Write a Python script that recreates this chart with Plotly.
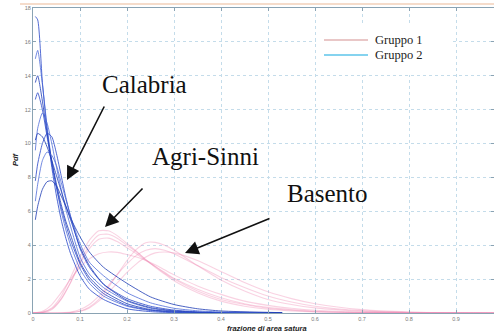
import plotly.graph_objects as go

# ---------------- data ----------------
x_blue = [0.005, 0.01, 0.02, 0.03, 0.04, 0.05, 0.06, 0.07, 0.08, 0.1,
          0.12, 0.15, 0.2, 0.25, 0.3, 0.35, 0.4, 0.53]
calabria_1 = [17.5, 17.3, 13.6, 10.8, 8.6, 6.9, 5.5, 4.4, 3.5, 2.2, 1.4, 0.8, 0.25, 0.08, 0.02, 0.01, 0.0, 0.0]
calabria_2 = [15.0, 15.5, 13.5, 11.0, 8.9, 7.4, 6.0, 4.9, 4.0, 2.6, 1.75, 1.0, 0.4, 0.14, 0.05, 0.02, 0.01, 0.0]
calabria_3 = [13.6, 14.0, 12.5, 10.6, 9.0, 7.6, 6.4, 5.4, 4.6, 3.0, 2.1, 1.3, 0.55, 0.2, 0.08, 0.03, 0.01, 0.0]
calabria_4 = [12.6, 13.0, 12.0, 10.4, 8.8, 7.4, 6.2, 5.2, 4.3, 2.9, 1.95, 1.15, 0.45, 0.17, 0.06, 0.02, 0.01, 0.0]
calabria_5 = [9.6, 10.9, 11.8, 11.2, 10.0, 8.6, 7.3, 6.1, 5.1, 3.3, 2.3, 1.5, 0.7, 0.28, 0.1, 0.04, 0.02, 0.0]
calabria_6 = [10.2, 10.6, 10.4, 9.8, 9.0, 8.1, 7.2, 6.3, 5.5, 3.9, 2.8, 1.7, 0.75, 0.32, 0.13, 0.05, 0.02, 0.0]
calabria_7 = [7.8, 8.8, 10.0, 10.6, 10.4, 9.4, 8.1, 6.8, 5.7, 3.8, 2.7, 1.7, 0.85, 0.4, 0.17, 0.07, 0.03, 0.0]
calabria_8 = [6.6, 7.6, 9.0, 9.5, 9.3, 8.7, 7.7, 6.7, 5.7, 4.1, 3.0, 2.2, 1.2, 0.6, 0.28, 0.13, 0.06, 0.01]
calabria_9 = [5.5, 6.3, 7.3, 7.75, 7.8, 7.5, 6.9, 6.3, 5.6, 4.5, 3.6, 2.7, 1.75, 0.95, 0.5, 0.25, 0.12, 0.02]

x_pink = [0.0, 0.02, 0.04, 0.06, 0.08, 0.1, 0.12, 0.14, 0.16, 0.18, 0.2, 0.22, 0.24,
          0.26, 0.28, 0.3, 0.35, 0.4, 0.45, 0.5, 0.55, 0.6, 0.7, 0.8, 0.9, 1.0]
agri_1 = [0, 0.05, 0.3, 1.0, 2.1, 3.3, 4.3, 4.85, 4.85, 4.55, 4.1, 3.65, 3.15,
          2.7, 2.3, 1.9, 1.2, 0.7, 0.4, 0.22, 0.12, 0.06, 0.015, 0, 0, 0]
agri_2 = [0, 0.02, 0.2, 0.8, 1.8, 3.0, 4.0, 4.6, 4.65, 4.4, 4.0, 3.6, 3.15,
          2.75, 2.35, 2.0, 1.3, 0.8, 0.5, 0.28, 0.16, 0.08, 0.02, 0, 0, 0]
agri_3 = [0, 0.03, 0.25, 0.85, 1.8, 2.9, 3.8, 4.35, 4.42, 4.2, 3.85, 3.5, 3.1,
          2.75, 2.4, 2.05, 1.4, 0.9, 0.55, 0.33, 0.2, 0.1, 0.03, 0.01, 0, 0]
agri_4 = [0, 0.1, 0.5, 1.2, 2.0, 2.7, 3.2, 3.5, 3.6, 3.58, 3.45, 3.3, 3.1,
          2.85, 2.55, 2.25, 1.6, 1.1, 0.7, 0.45, 0.28, 0.16, 0.05, 0.01, 0, 0]
basento_1 = [0, 0, 0, 0, 0.02, 0.1, 0.35, 0.8, 1.5, 2.3, 3.1, 3.75, 4.15,
             4.17, 4.0, 3.7, 2.8, 1.95, 1.3, 0.8, 0.5, 0.3, 0.1, 0.03, 0.01, 0]
basento_2 = [0, 0, 0, 0.01, 0.05, 0.2, 0.5, 1.0, 1.6, 2.3, 2.9, 3.4, 3.7,
             3.8, 3.7, 3.5, 2.8, 2.1, 1.5, 1.0, 0.65, 0.4, 0.14, 0.04, 0.01, 0]
basento_3 = [0, 0, 0, 0, 0.02, 0.1, 0.3, 0.7, 1.2, 1.8, 2.4, 2.9, 3.3,
             3.55, 3.6, 3.55, 3.1, 2.45, 1.8, 1.25, 0.85, 0.55, 0.2, 0.06, 0.015, 0]

x_ticks = [0, 0.1, 0.2, 0.3, 0.4, 0.5, 0.6, 0.7, 0.8, 0.9, 1.0]
x_tick_labels = ['0', '0.1', '0.2', '0.3', '0.4', '0.5', '0.6', '0.7', '0.8', '0.9', '1']
y_ticks = [0, 2, 4, 6, 8, 10, 12, 14, 16, 18]
y_tick_labels = ['0', '2', '4', '6', '8', '10', '12', '14', '16', '18']
legend_labels = ['Gruppo 1', 'Gruppo 2']
region_labels = ['Calabria', 'Agri-Sinni', 'Basento']
x_title = 'frazione di area satura'
y_title = 'Pdf'

# ---------------- figure ----------------
W, H = 494, 335
ML, MR, MT, MB = 33, 0, 8, 22
PW, PH = W - ML - MR, H - MT - MB

def px(xp):
    return (xp - ML) / PW

def py(yp):
    return (H - MB - yp) / PH

fig = go.Figure()

pink = 'rgba(238,130,176,0.36)'
for ys in [agri_1, agri_2, agri_3, agri_4, basento_1, basento_2, basento_3]:
    fig.add_trace(go.Scatter(x=x_pink, y=ys, mode='lines',
                             line=dict(color=pink, width=1.1, shape='spline', smoothing=0.6),
                             showlegend=False, hoverinfo='skip'))

blues = ['rgba(40,70,200,0.8)', 'rgba(70,100,215,0.75)', 'rgba(30,60,180,0.8)']
for i, ys in enumerate([calabria_1, calabria_2, calabria_3, calabria_4, calabria_5,
                        calabria_6, calabria_7, calabria_8, calabria_9]):
    fig.add_trace(go.Scatter(x=x_blue, y=ys, mode='lines',
                             line=dict(color=blues[i % 3], width=1, shape='spline', smoothing=0.6),
                             showlegend=False, hoverinfo='skip'))

axis_col = '#8aa3b3'
grid_col = '#c4dcea'
tickfont = dict(family='Liberation Sans', size=5.5, color='#7a7a7a')

fig.update_xaxes(range=[0, (W - ML) / 470], tickvals=x_ticks, ticktext=x_tick_labels,
                 showgrid=True, gridcolor=grid_col, griddash='dot', gridwidth=1,
                 zeroline=False, showline=True, linecolor=axis_col, linewidth=1,
                 mirror='allticks', ticks='inside', ticklen=3, tickcolor=axis_col,
                 tickfont=tickfont, fixedrange=True)
fig.update_yaxes(range=[0, 18], tickvals=y_ticks, ticktext=y_tick_labels,
                 showgrid=True, gridcolor=grid_col, griddash='dot', gridwidth=1,
                 zeroline=False, showline=True, linecolor=axis_col, linewidth=1,
                 mirror='allticks', ticks='inside', ticklen=3, tickcolor=axis_col,
                 tickfont=tickfont, fixedrange=True)

annotations = []
# region labels
label_pos = [(144, 84), (205, 156), (327, 193)]
for txt, (xp, yp) in zip(region_labels, label_pos):
    annotations.append(dict(x=px(xp), y=py(yp), xref='paper', yref='paper', text=txt,
                            showarrow=False, xanchor='center', yanchor='middle',
                            font=dict(family='Liberation Serif', size=25, color='#111')))
# arrows (tip, tail) in pixel positions
arrows = [((67, 180), (105, 105)), ((105, 227), (144, 187)), ((185, 253), (271, 218))]
for (tx, ty), (sx, sy) in arrows:
    annotations.append(dict(x=px(tx), y=py(ty), xref='paper', yref='paper',
                            ax=sx - tx, ay=sy - ty, axref='pixel', ayref='pixel',
                            text='', showarrow=True, arrowhead=2, arrowsize=1.7,
                            arrowwidth=1.6, arrowcolor='#111', standoff=0))
# axis titles
annotations.append(dict(x=px(16), y=py(159), xref='paper', yref='paper', text=y_title,
                        showarrow=False, textangle=-90, xanchor='center', yanchor='middle',
                        font=dict(family='Liberation Sans', size=7.5, color='#222',
                                  weight='bold', style='italic')))
annotations.append(dict(x=px(267), y=py(328), xref='paper', yref='paper', text=x_title,
                        showarrow=False, xanchor='center', yanchor='middle',
                        font=dict(family='Liberation Sans', size=7.5, color='#222',
                                  weight='bold', style='italic')))
# legend texts
leg_y = [40, 55]
for txt, yp in zip(legend_labels, leg_y):
    annotations.append(dict(x=px(373), y=py(yp), xref='paper', yref='paper', text=txt,
                            showarrow=False, xanchor='left', yanchor='middle',
                            font=dict(family='Liberation Serif', size=12.5, color='#222')))

shapes = [
    dict(type='rect', xref='paper', yref='paper', x0=px(316), x1=px(452), y0=py(75), y1=py(25),
         fillcolor='white', line=dict(width=0), layer='above'),
    dict(type='line', xref='paper', yref='paper', x0=px(324), x1=px(368), y0=py(40), y1=py(40),
         line=dict(color='#d49090', width=1.2), layer='above'),
    dict(type='line', xref='paper', yref='paper', x0=px(324), x1=px(368), y0=py(55), y1=py(55),
         line=dict(color='#5cc4ea', width=1.5), layer='above'),
    dict(type='line', xref='paper', yref='paper', x0=px(20), x1=px(494), y0=py(4), y1=py(4),
         line=dict(color='#f5dccb', width=2)),
]

fig.update_layout(width=W, height=H, margin=dict(l=ML, r=MR, t=MT, b=MB),
                  paper_bgcolor='white', plot_bgcolor='white',
                  annotations=annotations, shapes=shapes, showlegend=False)

fig.write_html('out.html', post_script="document.body.style.margin='0px';",
               config={'displayModeBar': False})
